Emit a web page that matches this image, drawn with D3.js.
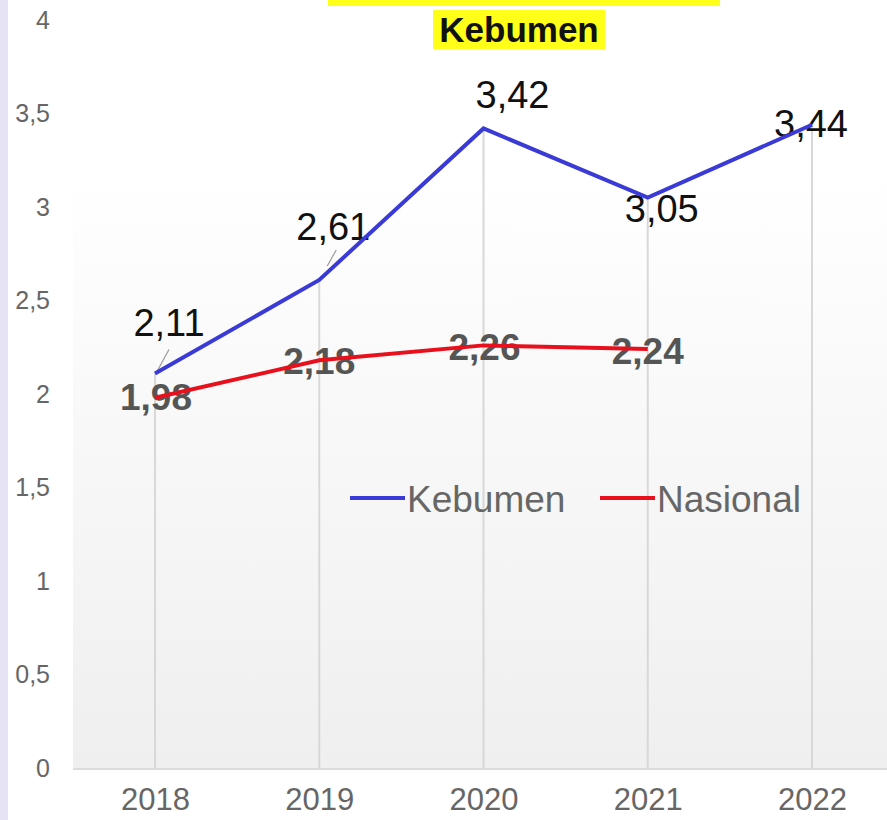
<!DOCTYPE html>
<html>
<head>
<meta charset="utf-8">
<script src="https://cdn.jsdelivr.net/npm/d3@7"></script>
<style>
	body { margin: 0; background: #fff; }
	svg { display: block; font-family: "Liberation Sans", Arial, sans-serif; }
</style>
</head>
<body>
<div id="container"></div>
<script>
	var years = ["2018", "2019", "2020", "2021", "2022"]
	var kebumen = [2.11, 2.61, 3.42, 3.05, 3.44]
	var nasional = [1.98, 2.18, 2.26, 2.24]
	var yTicks = [0, 0.5, 1, 1.5, 2, 2.5, 3, 3.5, 4]
	var seriesNames = ["Kebumen", "Nasional"]

	// label offsets from the point (dx, dy to baseline)
	var kebOffsets = [[14, -37], [14, -40], [29, -20], [14, 24], [-1, 12]]
	var nasOffsets = [[1, 12], [0, 14], [1, 15], [0, 15]]

	var w = 887
	var h = 820
	var boundaries = {
		top: 20,
		bottom: 768,
		left: 73,
		right: 887
	}

	var svg = d3.select("#container")
		.append("svg")
		.attr("width", w)
		.attr("height", h)

	var fmt = v => String(v).replace(".", ",")

	// x Scale
	let xScale = d3.scalePoint()
		.domain(years)
		.range([155, 812])

	// y Scale
	let yScale = d3.scaleLinear()
		.domain([0, 4])
		.range([boundaries.bottom, boundaries.top])

	// background gradient
	var grad = svg.append("defs").append("linearGradient")
		.attr("id", "bg")
		.attr("x1", 0).attr("y1", 0).attr("x2", 0).attr("y2", 1)
	grad.append("stop").attr("offset", "0%").attr("stop-color", "#ffffff")
	grad.append("stop").attr("offset", "20%").attr("stop-color", "#ffffff")
	grad.append("stop").attr("offset", "100%").attr("stop-color", "#efefef")

	svg.append("rect")
		.attr("x", boundaries.left)
		.attr("y", boundaries.top)
		.attr("width", boundaries.right - boundaries.left)
		.attr("height", boundaries.bottom + 2 - boundaries.top)
		.attr("fill", "url(#bg)")

	// lavender strip on the left
	svg.append("rect")
		.attr("x", 0).attr("y", 0)
		.attr("width", 8).attr("height", h)
		.attr("fill", "#e6e3f4")

	// bottom line
	svg.append("line")
		.attr("x1", boundaries.left).attr("x2", boundaries.right)
		.attr("y1", boundaries.bottom + 1).attr("y2", boundaries.bottom + 1)
		.attr("stroke", "#dcdcdc")
		.attr("stroke-width", 2)

	// drop lines
	svg.selectAll(".drop")
		.data(years)
		.enter()
		.append("line").attr("class", "drop")
		.attr("x1", d => xScale(d))
		.attr("x2", d => xScale(d))
		.attr("y1", (d, i) => yScale(kebumen[i]))
		.attr("y2", boundaries.bottom)
		.attr("stroke", "#d8d8d8")
		.attr("stroke-width", 2)

	// y axis
	let yAxis = d3.axisLeft(yScale)
		.tickValues(yTicks)
		.tickSize(0)
		.tickPadding(0)
		.tickFormat(fmt)

	let gy = svg.append("g")
		.attr("transform", "translate(50, 0)")
		.call(yAxis)
	gy.select(".domain").remove()
	gy.selectAll("text")
		.attr("fill", "#666")
		.style("font-size", "25px")
		.style("font-family", "Liberation Sans, Arial, sans-serif")

	// x axis
	let xAxis = d3.axisBottom(xScale).tickSize(0).tickPadding(0)
	let gx = svg.append("g")
		.attr("transform", "translate(0, 787)")
		.call(xAxis)
	gx.select(".domain").remove()
	gx.selectAll("text")
		.attr("fill", "#666")
		.attr("dy", "0.75em")
		.style("font-size", "31px")
		.style("font-family", "Liberation Sans, Arial, sans-serif")

	// leader lines
	svg.append("line")
		.attr("x1", xScale("2018") + 2).attr("y1", yScale(kebumen[0]) - 2)
		.attr("x2", xScale("2018") + 14).attr("y2", yScale(kebumen[0]) - 24)
		.attr("stroke", "#999").attr("stroke-width", 1.2)
	svg.append("line")
		.attr("x1", xScale("2019") + 8).attr("y1", yScale(kebumen[1]) - 14)
		.attr("x2", xScale("2019") + 17).attr("y2", yScale(kebumen[1]) - 30)
		.attr("stroke", "#999").attr("stroke-width", 1.2)

	// data labels (under the lines)
	svg.selectAll(".nasLabel")
		.data(nasional)
		.enter()
		.append("text").attr("class", "nasLabel")
		.attr("x", (d, i) => xScale(years[i]) + nasOffsets[i][0])
		.attr("y", (d, i) => yScale(d) + nasOffsets[i][1])
		.attr("text-anchor", "middle")
		.attr("fill", "#555")
		.style("font-size", "37px")
		.style("font-weight", "bold")
		.text(fmt)

	svg.selectAll(".kebLabel")
		.data(kebumen)
		.enter()
		.append("text").attr("class", "kebLabel")
		.attr("x", (d, i) => xScale(years[i]) + kebOffsets[i][0])
		.attr("y", (d, i) => yScale(d) + kebOffsets[i][1])
		.attr("text-anchor", "middle")
		.attr("fill", "#111")
		.style("font-size", "38px")
		.text(fmt)

	// lines
	let line = d3.line()
		.x((d, i) => xScale(years[i]))
		.y(d => yScale(d))

	svg.append("path")
		.datum(kebumen)
		.attr("d", line)
		.attr("fill", "none")
		.attr("stroke", "#3a3ad6")
		.attr("stroke-width", 4)
		.attr("stroke-linejoin", "miter")

	svg.append("path")
		.datum(nasional)
		.attr("d", line)
		.attr("fill", "none")
		.attr("stroke", "#e8101c")
		.attr("stroke-width", 4)

	// legend
	var legendColors = ["#3a3ad6", "#e8101c"]
	var legendX = [350, 600]
	var leg = svg.selectAll(".legend")
		.data(seriesNames)
		.enter()
		.append("g").attr("class", "legend")
		.attr("transform", (d, i) => "translate(" + legendX[i] + ", 498)")
	leg.append("line")
		.attr("x1", 0).attr("x2", 55)
		.attr("stroke", (d, i) => legendColors[i])
		.attr("stroke-width", 4)
	leg.append("text")
		.attr("x", 57)
		.attr("y", 14)
		.attr("fill", "#666")
		.style("font-size", "37px")
		.text(d => d)

	// title
	svg.append("rect")
		.attr("x", 328).attr("y", 0)
		.attr("width", 392).attr("height", 6)
		.attr("fill", "#ffff1a")
	svg.append("rect")
		.attr("x", 433).attr("y", 10)
		.attr("width", 172).attr("height", 39)
		.attr("fill", "#ffff1a")
	svg.append("text")
		.attr("x", 519)
		.attr("y", 42)
		.attr("text-anchor", "middle")
		.attr("fill", "#111")
		.style("font-size", "35px")
		.style("font-weight", "bold")
		.text("Kebumen")
</script>
</body>
</html>
